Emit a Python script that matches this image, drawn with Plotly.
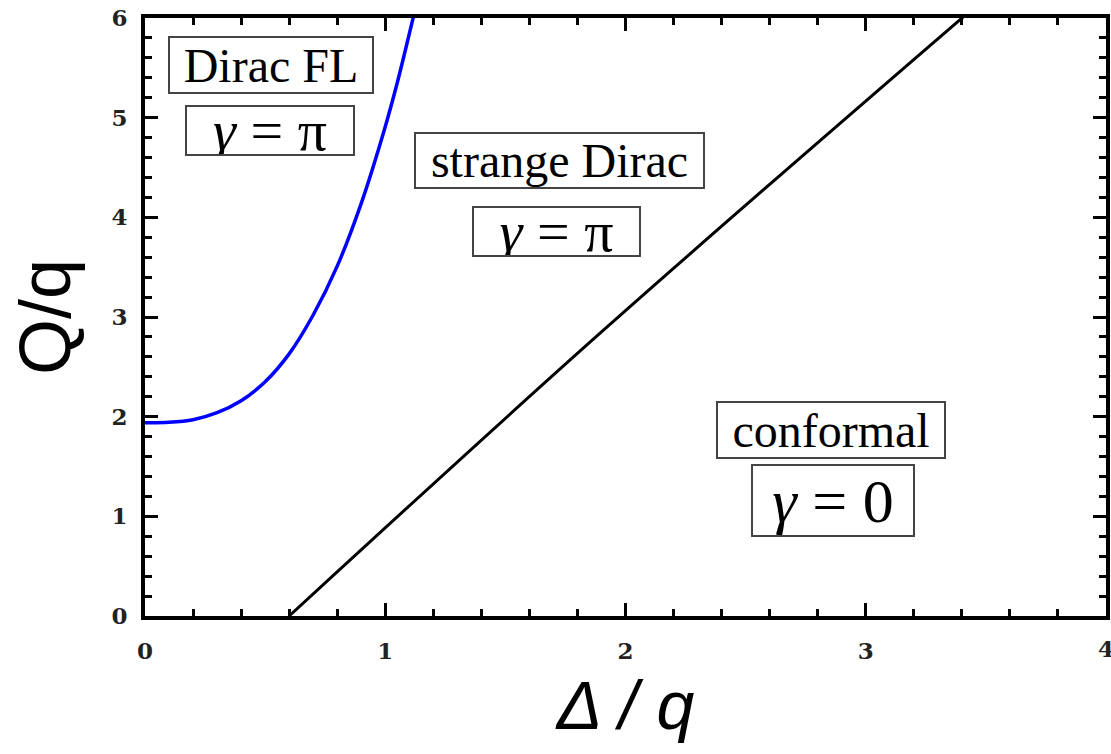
import plotly.graph_objects as go

# Blue boundary (Dirac FL / strange Dirac)
blue_delta = [0.0, 0.1, 0.2, 0.3, 0.4, 0.5, 0.6, 0.7, 0.8, 0.9, 1.0, 1.05, 1.1, 1.12]
blue_q = [1.94, 1.944, 1.97, 2.04, 2.16, 2.35, 2.63, 3.02, 3.51, 4.14, 4.91, 5.35, 5.84, 6.04]

# Black boundary (strange Dirac / conformal)
black_delta = [0.60, 1.90, 3.42]
black_q = [0.0, 2.85, 6.04]

x_ticks = [0, 1, 2, 3, 4]
y_ticks = [0, 1, 2, 3, 4, 5, 6]

labels = [
    # text, delta, q, width, height, size
    ("Dirac FL", 0.523, 5.53, 202, 54, 48),
    ("<i>γ</i> = π", 0.519, 4.87, 166, 47, 58),
    ("strange Dirac", 1.725, 4.57, 287, 53, 48),
    ("<i>γ</i> = π", 1.713, 3.86, 165, 47, 58),
    ("conformal", 2.857, 1.87, 226, 54, 48),
    ("<i>γ</i> = 0", 2.865, 1.16, 160, 69, 62),
]

fig = go.Figure()
fig.add_trace(go.Scatter(x=blue_delta, y=blue_q, mode="lines", line=dict(color="#0000ff", width=3.5, shape="spline"),
                         showlegend=False, hoverinfo="skip", cliponaxis=True))
fig.add_trace(go.Scatter(x=black_delta, y=black_q, mode="lines", line=dict(color="#000000", width=3, shape="spline"),
                         showlegend=False, hoverinfo="skip", cliponaxis=True))

for text, dx, qy, w, h, s in labels:
    fig.add_annotation(x=dx, y=qy, xref="x", yref="y", text=text, showarrow=False,
                       font=dict(family="Liberation Serif", size=s, color="black"),
                       width=w, height=h, align="center", valign="middle",
                       bordercolor="#444444", borderwidth=2, borderpad=0, bgcolor="white")

tickfont = dict(family="DejaVu Serif", size=23, color="#222", weight="bold")
axis_common = dict(showline=True, linecolor="black", linewidth=4, mirror="allticks",
                   ticks="inside", ticklen=13, tickwidth=3, tickcolor="black",
                   showgrid=False, zeroline=False, tickfont=tickfont)

fig.update_xaxes(range=[0, 4], tickvals=x_ticks, ticktext=[str(v) for v in x_ticks],
                 minor=dict(ticks="inside", ticklen=7, tickwidth=3, tickcolor="black", dtick=0.2, showgrid=False),
                 ticklabelstandoff=11,
                 title=dict(text="<i>Δ / q</i>", font=dict(family="Liberation Sans", size=68, color="black"), standoff=20),
                 **axis_common)
fig.update_yaxes(range=[0, 6], tickvals=y_ticks, ticktext=[str(v) for v in y_ticks],
                 minor=dict(ticks="inside", ticklen=7, tickwidth=3, tickcolor="black", dtick=0.2, showgrid=False),
                 ticklabelstandoff=9,
                 title=dict(text="Q/q", font=dict(family="Liberation Sans", size=72, color="black"), standoff=18),
                 **axis_common)

# last x tick label sits at the page edge (partly cut off), drawn explicitly
fig.add_annotation(x=x_ticks[-1], y=0, xref="x", yref="y", text=str(x_ticks[-1]), showarrow=False,
                   font=tickfont, yanchor="top", yshift=-17)

fig.update_layout(width=1111, height=754, margin=dict(l=145, r=1, t=18, b=138),
                  plot_bgcolor="white", paper_bgcolor="white")

fig.write_html("out.html")
